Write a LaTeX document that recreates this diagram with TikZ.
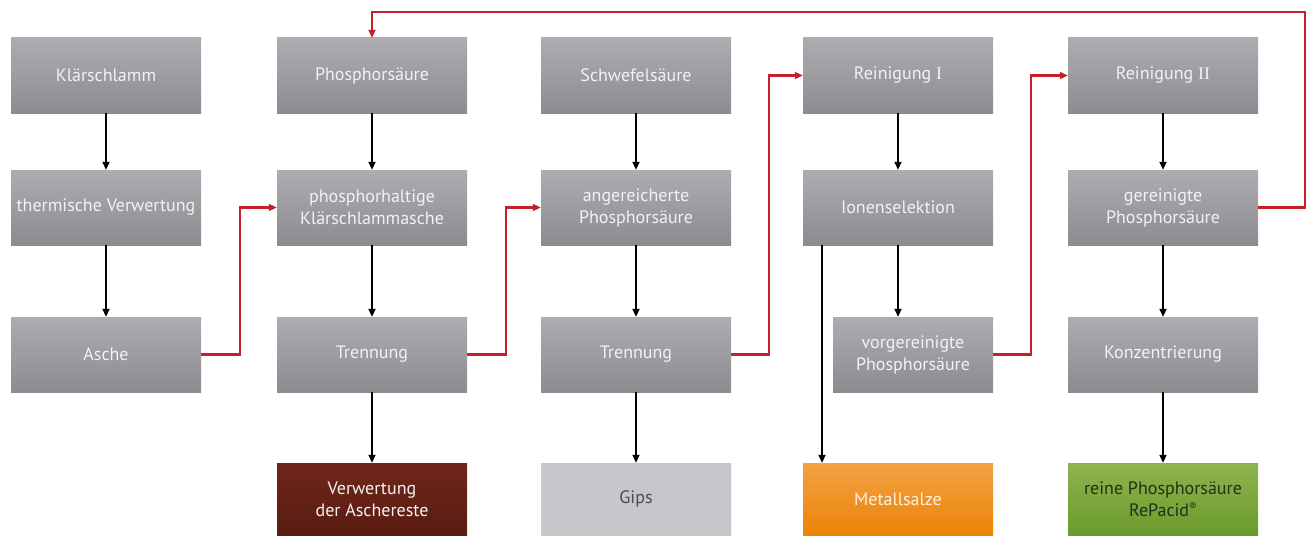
\documentclass[tikz,border=0pt]{standalone}
\usepackage{fontspec}
\setmainfont{PT Sans}
\newfontfamily\romnum{Liberation Serif}
\usetikzlibrary{arrows.meta}
\definecolor{boxtop}{HTML}{ADADB1}
\definecolor{boxbot}{HTML}{8B8B90}
\definecolor{gipsc}{HTML}{C7C7CB}
\definecolor{gipstext}{HTML}{4A4A50}
\definecolor{browntop}{HTML}{6F261A}
\definecolor{brownbot}{HTML}{5A1C12}
\definecolor{orangetop}{HTML}{F2A244}
\definecolor{orangebot}{HTML}{EC8306}
\definecolor{greentop}{HTML}{8FB44F}
\definecolor{greenbot}{HTML}{6A9A2C}
\definecolor{greentext}{HTML}{23301A}
\definecolor{redline}{HTML}{C8202A}
\begin{document}
\begin{tikzpicture}[x=1pt,y=-1pt,
  box/.style={minimum width=190pt,minimum height=75pt,inner sep=0pt,align=center,
    text=white!95!black,font=\fontsize{18}{22}\selectfont,top color=boxtop,bottom color=boxbot,draw=none},
  endbox/.style={box,minimum height=72pt},
  blk/.style={draw=black,line width=1.8pt,-{Triangle[length=8pt,width=7pt]}},
  rd/.style={draw=redline,line width=2.2pt,-{Triangle[length=8pt,width=7pt]}}]
\useasboundingbox (0,0) rectangle (1316,535);
% column 1
\node[box] (ks) at (106,75.5) {Klärschlamm};
\node[box] (tv) at (106,207.5) {thermische Verwertung};
\node[box] (as) at (106,354.5) {Asche};
% column 2
\node[box] (ps) at (372,75.5) {Phosphorsäure};
\node[box] (pk) at (372,207.5) {phosphorhaltige\\Klärschlammasche};
\node[box] (tr1) at (372,354.5) {Trennung};
\node[endbox,top color=browntop,bottom color=brownbot] (va) at (372,499) {Verwertung\\der Aschereste};
% column 3
\node[box] (sw) at (636,75.5) {Schwefelsäure};
\node[box] (ap) at (636,207.5) {angereicherte\\Phosphorsäure};
\node[box] (tr2) at (636,354.5) {Trennung};
\node[endbox,top color=gipsc,bottom color=gipsc,text=gipstext] (gi) at (636,499) {Gips};
% column 4
\node[box] (r1) at (898,75.5) {Reinigung {\romnum I}};
\node[box] (io) at (898,207.5) {Ionenselektion};
\node[box,minimum width=160pt] (vg) at (913,354.5) {vorgereinigte\\Phosphorsäure};
\node[endbox,top color=orangetop,bottom color=orangebot,text=white!88!orange] (ms) at (898,499) {Metallsalze};
% column 5
\node[box] (r2) at (1163,75.5) {Reinigung {\romnum II}};
\node[box] (gp) at (1163,207.5) {gereinigte\\Phosphorsäure};
\node[box] (ko) at (1163,354.5) {Konzentrierung};
\node[endbox,top color=greentop,bottom color=greenbot,text=greentext] (rp) at (1163,499) {reine Phosphorsäure\\RePacid{\fontsize{11}{11}\selectfont\raisebox{6pt}{®}}};
% black arrows
\draw[blk] (ks) -- (tv);
\draw[blk] (tv) -- (as);
\draw[blk] (ps) -- (pk);
\draw[blk] (pk) -- (tr1);
\draw[blk] (tr1) -- (va);
\draw[blk] (sw) -- (ap);
\draw[blk] (ap) -- (tr2);
\draw[blk] (tr2) -- (gi);
\draw[blk] (r1) -- (io);
\draw[blk] (io.south) -- (io.south |- vg.north);
\draw[blk] ([xshift=-76pt]io.south) -- ([xshift=-76pt]io.south |- ms.north);
\draw[blk] (r2) -- (gp);
\draw[blk] (gp) -- (ko);
\draw[blk] (ko) -- (rp);
% red arrows
\draw[rd] (as.east) -- ++(39,0) |- (pk.west);
\draw[rd] (tr1.east) -- ++(39,0) |- (ap.west);
\draw[rd] (tr2.east) -- ++(38,0) |- (r1.west);
\draw[rd] (vg.east) -- ++(38,0) |- (r2.west);
\coordinate (loop) at (1305,12);
\draw[rd] (gp.east) -| (loop) -| (ps.north);
\end{tikzpicture}
\end{document}
